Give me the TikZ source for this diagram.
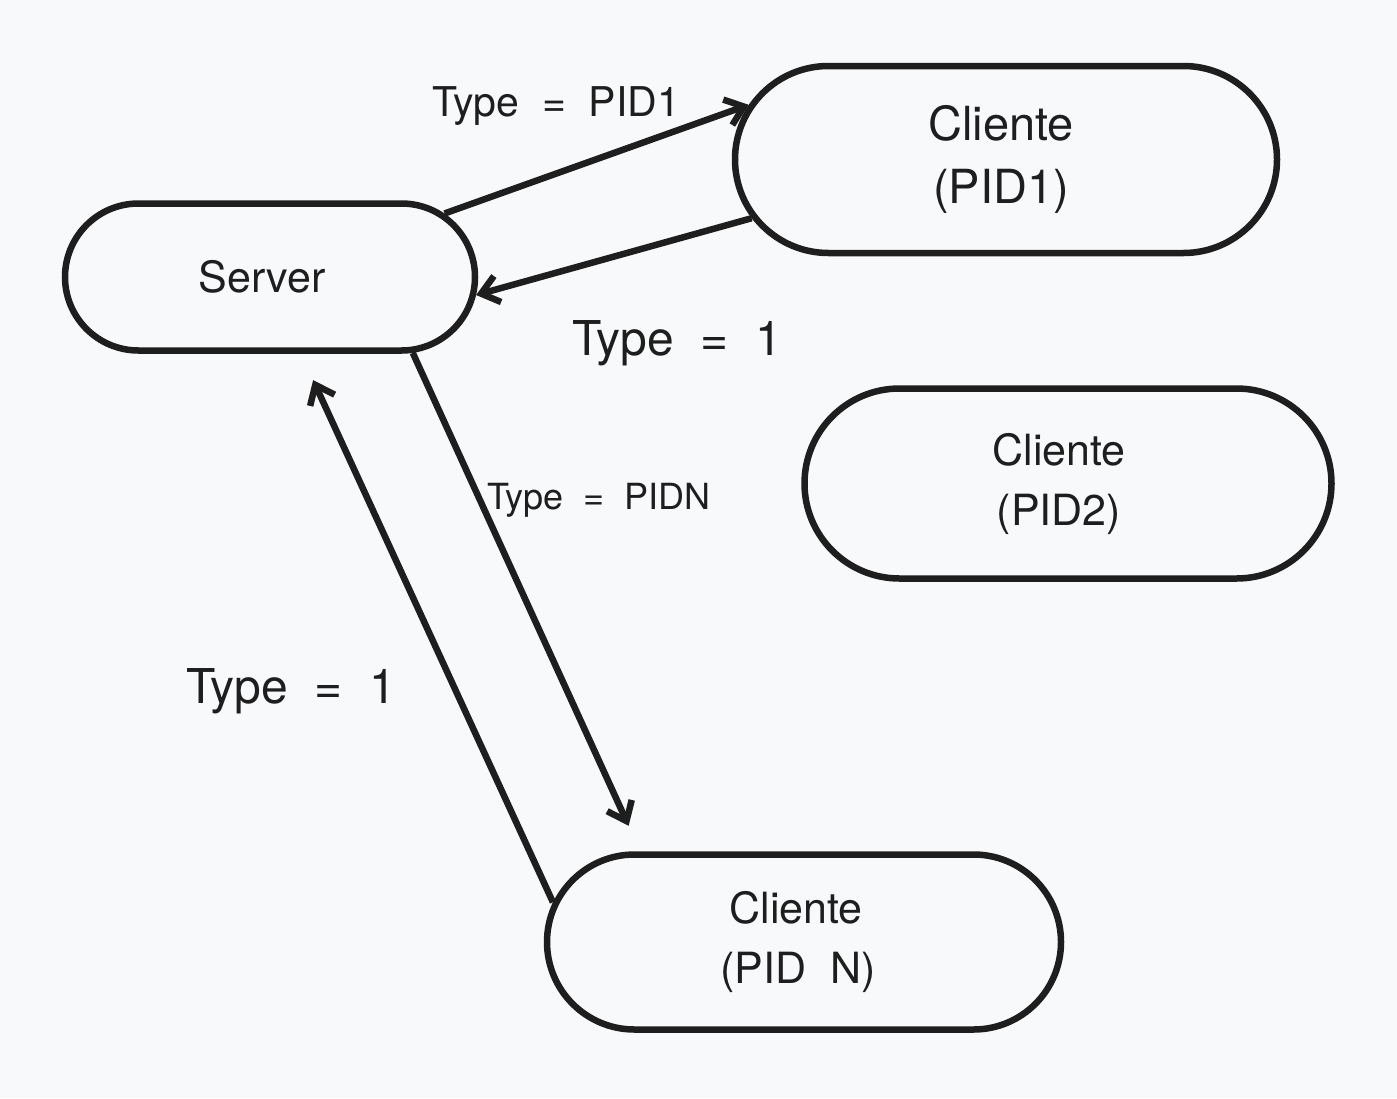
\documentclass[tikz,border=0pt]{standalone}
\usepackage{fontspec}
\setmainfont{TeX Gyre Heros}
\usetikzlibrary{arrows.meta,shapes.misc,calc}
\definecolor{ink}{RGB}{30,30,30}
\definecolor{paper}{RGB}{248,249,251}
\tikzset{
  proc/.style={draw=ink, text=ink, line width=6.5pt, rounded rectangle, inner sep=0pt, align=center},
  flow/.style={draw=ink, line width=6.5pt, -{Straight Barb[length=17pt,width=27pt,line width=6.5pt]}},
  lbl/.style={text=ink, inner sep=0pt, anchor=base west}
}

\begin{document}
\begin{tikzpicture}[x=1pt,y=-1pt]
          \fill[paper] (0,0) rectangle (1397,1098);
          \useasboundingbox (0,0) rectangle (1397,1098);

          % processes
          \node[proc, minimum width=410pt, minimum height=147pt, font=\fontsize{43}{60}\selectfont] (srv) at (270,277) {Server\kern16pt};
          \node[proc, minimum width=542pt, minimum height=187pt, font=\fontsize{47}{63}\selectfont] (cl1) at (1006,159.5) {Cliente\kern10pt\\(PID1)\kern10pt};
          \node[proc, minimum width=527pt, minimum height=190pt, font=\fontsize{43}{60}\selectfont] (cl2) at (1068,483.5) {Cliente\kern18pt\\(PID2)\kern18pt};
          \node[proc, minimum width=514pt, minimum height=175pt, font=\fontsize{43}{60}\selectfont] (cln) at (804,942) {Cliente\kern16pt\\(PID~~N)\kern12pt};

          % message types
          \node[lbl, font=\fontsize{41}{50}\selectfont] (tpa) at (432,116) {Type~~=~~PID1};
          \node[lbl, font=\fontsize{48}{58}\selectfont] (tra) at (572,355) {Type~~=~~1};
          \node[lbl, font=\fontsize{36}{44}\selectfont] (tpn) at (487,509) {Type~~=~~PIDN};
          \node[lbl, font=\fontsize{48}{58}\selectfont] (trn) at (186,703) {Type~~=~~1};

          % messages
          \draw[flow] (srv.20) -- (cl1.168);
          \draw[flow] (cl1.193) -- (srv.-5);
          \draw[flow, shorten >=28pt] (srv.-28) -- (cln.151);
          \draw[flow, shorten >=29pt] (cln.171) -- (srv.-68);
\end{tikzpicture}
\end{document}
